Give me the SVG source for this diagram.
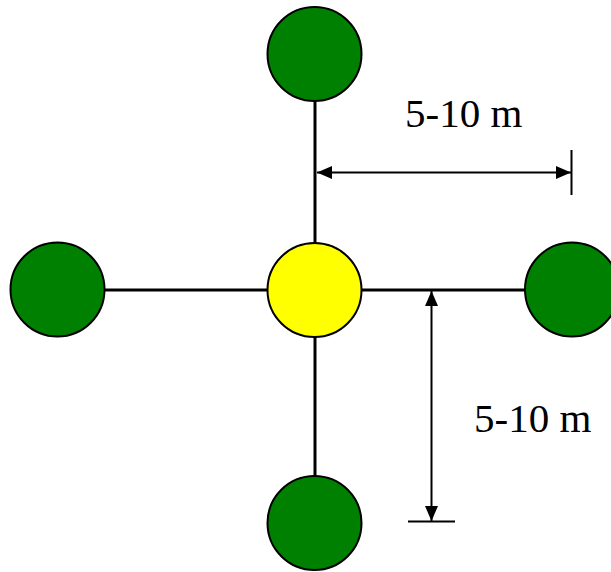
<svg xmlns="http://www.w3.org/2000/svg" width="611" height="572" viewBox="0 0 611 572">
<style>
.link{stroke:#000;stroke-width:3;fill:none}
.dim{stroke:#000;stroke-width:2;fill:none}
.node{stroke:#000;stroke-width:2}
.green{fill:#008000}
.yellow{fill:#ffff00}
.lbl{font-family:"Liberation Serif","Times New Roman",serif;font-size:41px;fill:#000}
</style>
<defs>
<marker id="ah" viewBox="0 0 15 13" refX="15" refY="6.5" markerWidth="15" markerHeight="13" markerUnits="userSpaceOnUse" orient="auto-start-reverse">
<path d="M0,0 L15,6.5 L0,13 Z" fill="#000"/>
</marker>
</defs>
<rect width="611" height="572" fill="#fff"/>
<g id="connectors">
<line class="link" x1="315" y1="101" x2="315" y2="243"/>
<line class="link" x1="315" y1="337" x2="315" y2="476"/>
<line class="link" x1="104" y1="290" x2="268" y2="290"/>
<line class="link" x1="361" y1="290" x2="525" y2="290"/>
<line class="dim" x1="317" y1="172.5" x2="571" y2="172.5" marker-start="url(#ah)" marker-end="url(#ah)"/>
<line class="dim" x1="571.5" y1="150" x2="571.5" y2="195"/>
<line class="dim" x1="431.5" y1="291" x2="431.5" y2="521" marker-start="url(#ah)" marker-end="url(#ah)"/>
<line class="dim" x1="408" y1="521.5" x2="455" y2="521.5"/>
</g>
<g id="node-top"><circle class="node green" cx="314.5" cy="54" r="47"/></g>
<g id="node-left"><circle class="node green" cx="57.5" cy="289.5" r="47"/></g>
<g id="node-center"><circle class="node yellow" cx="314.5" cy="290" r="47"/></g>
<g id="node-right"><circle class="node green" cx="572" cy="289.5" r="47"/></g>
<g id="node-bottom"><circle class="node green" cx="314.5" cy="523" r="47"/></g>
<g id="labels">
<text class="lbl" x="405" y="127">5-10 m</text>
<text class="lbl" x="474" y="432">5-10 m</text>
</g>
</svg>
